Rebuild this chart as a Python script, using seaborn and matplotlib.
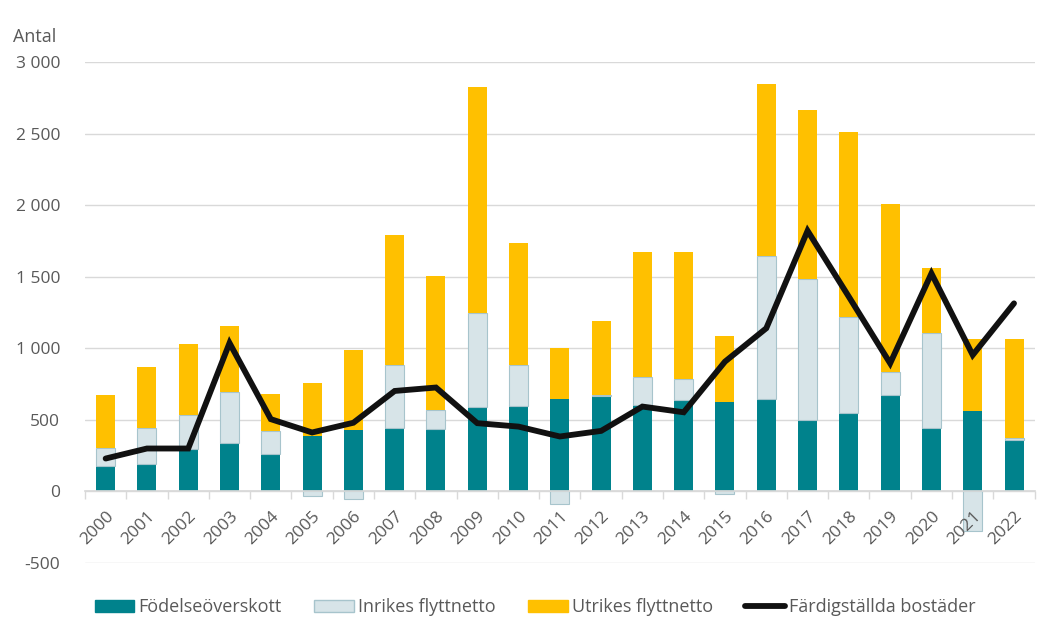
import numpy as np
import pandas as pd
import matplotlib
matplotlib.use("Agg")
import matplotlib.pyplot as plt
import seaborn as sns
from matplotlib.patches import Patch
from matplotlib.lines import Line2D
from matplotlib.ticker import FuncFormatter, MultipleLocator

# Data
years = [str(y) for y in range(2000, 2023)]
fodelse = [175, 195, 300, 335, 262, 387, 432, 444, 435, 593, 600, 649, 670, 605, 640,
           623, 647, 500, 547, 677, 444, 560, 360]
inrikes = [130, 250, 237, 360, 163, -32, -50, 442, 135, 651, 286, -86, 5, 193, 148,
           -19, 997, 984, 672, 156, 661, -279, 12]
utrikes = [370, 425, 493, 462, 257, 373, 555, 907, 935, 1582, 847, 351, 516, 872, 886,
           465, 1200, 1183, 1293, 1174, 455, 503, 691]
bostader = [230, 300, 300, 1037, 505, 412, 480, 702, 726, 477, 453, 384, 423, 593, 553,
            907, 1140, 1821, 1360, 895, 1523, 953, 1314]

c_fod = "#00828C"
c_inr = "#D7E4E8"
c_inr_edge = "#A7C4CC"
c_utr = "#FFC000"
c_line = "#111111"
grey = "#595959"

df = pd.DataFrame({"year": years, "fod": fodelse, "inr": inrikes, "utr": utrikes, "bost": bostader})
inr_pos = df["inr"].clip(lower=0)
inr_bottom = np.where(df["inr"] >= 0, df["fod"], 0)
utr_bottom = df["fod"] + inr_pos

sns.set_theme(style="white")
plt.rcParams["font.family"] = ["Open Sans", "DejaVu Sans"]

fig = plt.figure(figsize=(10.43, 6.30), dpi=100)
ax = fig.add_axes([0.0815, 0.1063, 0.9105, 0.7953])

bw = 0.46
sns.barplot(data=df, x="year", y="fod", order=years, color=c_fod, width=bw,
            errorbar=None, saturation=1, linewidth=0, ax=ax)
sns.barplot(data=df, x="year", y="inr", order=years, color=c_inr, width=bw,
            errorbar=None, saturation=1, bottom=inr_bottom, edgecolor=c_inr_edge,
            linewidth=0.8, ax=ax)
sns.barplot(data=df, x="year", y="utr", order=years, color=c_utr, width=bw,
            errorbar=None, saturation=1, bottom=utr_bottom, linewidth=0, ax=ax)
sns.lineplot(x=np.arange(len(years)), y=df["bost"], color=c_line, linewidth=4.2,
             solid_joinstyle="miter", ax=ax)

ax.set_ylim(-500, 3000)
ax.set_xlim(-0.5, len(years) - 0.5)
ax.yaxis.set_major_locator(MultipleLocator(500))
ax.yaxis.set_major_formatter(FuncFormatter(lambda v, p: f"{int(v):,}".replace(",", " ")))
ax.grid(axis="y", color="#D9D9D9", linewidth=1)
ax.set_axisbelow(True)
ax.xaxis.set_zorder(5)
for s in ["top", "right", "left"]:
    ax.spines[s].set_visible(False)
ax.spines["bottom"].set_position(("data", 0))
ax.spines["bottom"].set_color("#D9D9D9")
ax.set_xlabel("")
ax.set_ylabel("")

ax.set_xticks(np.arange(len(years)))
ax.set_xticklabels(years, rotation=45, ha="right", rotation_mode="anchor")
ax.set_xticks(np.arange(len(years) + 1) - 0.5, minor=True)
ax.tick_params(axis="x", which="major", length=0, pad=12, labelsize=12.5, labelcolor=grey)
ax.tick_params(axis="x", which="minor", length=6, color="#D9D9D9", direction="out", bottom=True)
ax.tick_params(axis="y", length=0, pad=18, labelsize=12.5, labelcolor=grey)

fig.text(0.012, 0.933, "Antal", fontsize=13, color=grey)

handles = [Patch(facecolor=c_fod, edgecolor=c_fod),
           Patch(facecolor=c_inr, edgecolor=c_inr_edge),
           Patch(facecolor=c_utr, edgecolor=c_utr),
           Line2D([0], [0], color=c_line, linewidth=4.2)]
labels = ["Födelseöverskott", "Inrikes flyttnetto", "Utrikes flyttnetto", "Färdigställda bostäder"]
fig.legend(handles, labels, loc="center", bbox_to_anchor=(0.513, 0.036), ncol=4, frameon=False,
           fontsize=13, handlelength=2.2, handleheight=0.7, handletextpad=0.22,
           columnspacing=1.8, labelcolor=grey)

fig.savefig("out.png", dpi=100)
